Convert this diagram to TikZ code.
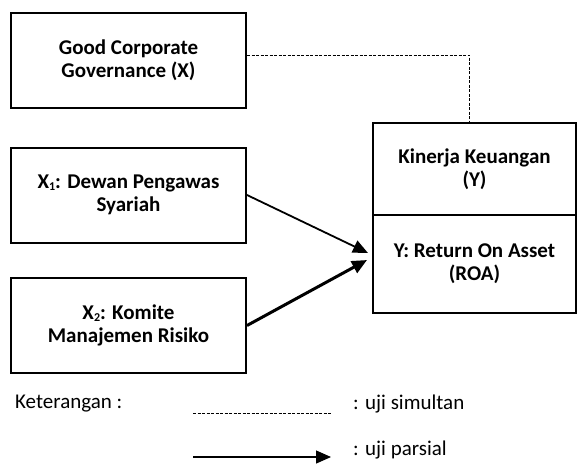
\documentclass[tikz,border=0pt]{standalone}
\usepackage{fontspec}
\setmainfont{Carlito}
\usetikzlibrary{arrows.meta}

\newcommand{\sbs}[1]{\raisebox{-1.5pt}{\fontsize{12}{12}\selectfont #1}}

\tikzset{
    var box/.style={draw, line width=2pt, inner sep=0pt, align=center,
        minimum width=235pt, minimum height=95pt,
        font=\bfseries\fontsize{21}{23}\selectfont},
    y box/.style={draw, line width=2pt, inner sep=0pt, align=center,
        minimum width=203pt, font=\bfseries\fontsize{21}{23}\selectfont},
    simultan/.style={line width=1pt, dash pattern=on 3pt off 1.5pt},
    parsial/.style={->, line width=1.8pt},
    legend/.style={anchor=west, inner sep=0pt, font=\fontsize{21}{23}\selectfont}
}

\begin{document}
\begin{tikzpicture}[x=1pt, y=-1pt, >={Triangle[length=15pt, width=13pt]}]

\useasboundingbox (0,0) rectangle (577,464);

\foreach \n/\t/\y in {gcg/{Good Corporate\\Governance (X)}/60,
        x1/{X\sbs{1}: Dewan Pengawas\\Syariah}/195,
        x2/{X\sbs{2}: Komite\\Manajemen Risiko}/325.5}
    \node [var box] (\n) at (128.5, \y) {\t};

\node [y box, minimum height=92pt] (kinerja) at (474.5, 169) {Kinerja Keuangan\\(Y)};
\node [y box, minimum height=98pt] (roa) at (474.5, 264) {Y: Return On Asset\\(ROA)};

% simultan
\draw [simultan] ([yshift=5pt]gcg.east) -| ([xshift=-5pt]kinerja.north);

% parsial
\draw [parsial] (x1.east) -- ([shift={(-4pt,11pt)}]roa.west);
\draw [parsial, line width=3pt] (x2.east) -- ([shift={(-5pt,4pt)}]roa.west);

% keterangan
\node [legend] (ket) at (15, 404) {Keterangan :};
\node [legend] (sim-label) at (353, 404) {: uji simultan};
\node [legend] (par-label) at (353, 450) {: uji parsial};

\coordinate (sim-a) at (193, 413);
\coordinate (sim-b) at (332, 413);
\coordinate (par-a) at (193, 457);
\coordinate (par-b) at (331, 457);

\draw [simultan] (sim-a) -- (sim-b);
\draw [->, line width=1.2pt] (par-a) -- (par-b);

\end{tikzpicture}
\end{document}
